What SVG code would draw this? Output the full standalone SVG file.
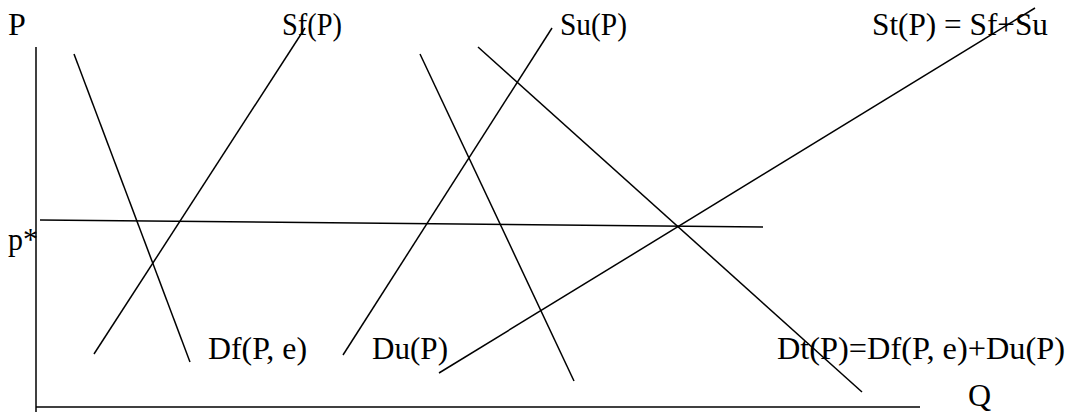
<svg xmlns="http://www.w3.org/2000/svg" width="1066" height="420" viewBox="0 0 1066 420">
<style>
.l{stroke:#000;stroke-width:1.5;fill:none}
.t{font-family:'Liberation Serif','DejaVu Serif',serif;font-size:32px;fill:#000}
</style>
<rect width="1066" height="420" fill="#fff"/>
<g id="axes">
<line class="l" x1="36" y1="47" x2="36" y2="412"/>
<line class="l" x1="36" y1="407" x2="920" y2="407"/>
<text class="t" x="8" y="35">P</text>
<text class="t" x="968" y="406">Q</text>
</g>
<g id="pstar">
<line class="l" x1="40" y1="220" x2="763" y2="227"/>
<text class="t" x="8" y="250" textLength="30" lengthAdjust="spacingAndGlyphs">p*</text>
</g>
<g id="Df">
<line class="l" x1="74" y1="54" x2="190" y2="362"/>
<text class="t" x="208" y="359" textLength="99" lengthAdjust="spacingAndGlyphs">Df(P, e)</text>
</g>
<g id="Sf">
<line class="l" x1="305" y1="28" x2="94" y2="354"/>
<text class="t" x="282" y="35" textLength="60" lengthAdjust="spacingAndGlyphs">Sf(P)</text>
</g>
<g id="Su">
<line class="l" x1="552" y1="28" x2="343" y2="355"/>
<text class="t" x="560" y="35" textLength="67" lengthAdjust="spacingAndGlyphs">Su(P)</text>
</g>
<g id="Du">
<line class="l" x1="420" y1="54" x2="574" y2="381"/>
<text class="t" x="372" y="359" textLength="76" lengthAdjust="spacingAndGlyphs">Du(P)</text>
</g>
<g id="Dt">
<line class="l" x1="478" y1="47" x2="862" y2="392"/>
<text class="t" x="777" y="359" textLength="288" lengthAdjust="spacingAndGlyphs">Dt(P)=Df(P, e)+Du(P)</text>
</g>
<g id="St">
<line class="l" x1="1035" y1="8" x2="439" y2="373"/>
<text class="t" x="872" y="35" textLength="176" lengthAdjust="spacingAndGlyphs">St(P) = Sf+Su</text>
</g>
</svg>
